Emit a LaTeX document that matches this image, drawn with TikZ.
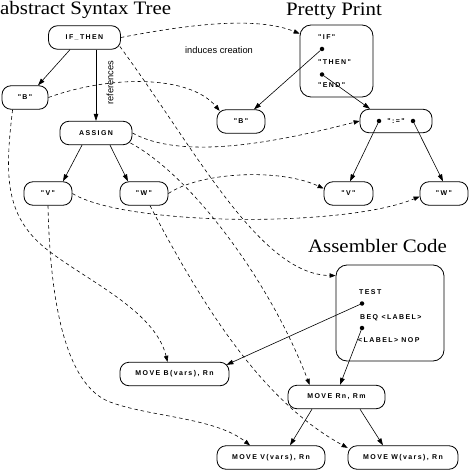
\documentclass[tikz,border=0pt]{standalone}
\usepackage{fontspec}
\setmainfont{Liberation Serif}
\newfontfamily\boxfont[LetterSpace=20]{Liberation Sans}
\newfontfamily\labfont{Liberation Sans}
\usetikzlibrary{arrows.meta,calc}
\newcommand{\widetitle}[1]{\scalebox{1.1}[1]{#1}}
\tikzset{
  box/.style={draw, line width=0.8pt, rounded corners=9pt, inner sep=0pt,
    font=\boxfont\bfseries\fontsize{7}{8}\selectfont, minimum height=23.5pt},
  bigbox/.style={draw, line width=0.8pt, rounded corners=11pt, inner sep=0pt},
  btext/.style={inner sep=0pt, anchor=west, font=\boxfont\bfseries\fontsize{7}{8}\selectfont},
  dot/.style={circle, fill, inner sep=0pt, minimum size=4.5pt},
  title/.style={inner sep=0pt, font=\fontsize{19}{23}\selectfont},
  lab/.style={inner sep=0pt, font=\labfont\fontsize{9.3}{11}\selectfont},
  link/.style={line width=0.6pt, -{Triangle[length=7pt,width=4.6pt]}},
  dlink/.style={line width=0.6pt, dash pattern=on 3.5pt off 3pt, -{Triangle[length=6pt,width=4.4pt]}},
}
\begin{document}
\begin{tikzpicture}[x=1pt,y=-1pt]
\useasboundingbox (0,0) rectangle (469,470);
% titles and labels
\node[title, anchor=base west] (tAST) at (0,15) {\widetitle{abstract Syntax Tree}};
\node[title, anchor=base] (tPP) at (334,15.5) {\widetitle{Pretty Print}};
\node[title, anchor=base] (tASM) at (377.5,252) {\widetitle{Assembler Code}};
\node[lab] (induces) at (219,50) {induces creation};
\node[lab, rotate=90] (refs) at (110,82.5) {references};
% AST
\node[box, minimum width=72pt] (ifthen) at (84.5,37.5) {IF\_THEN};
\node[box, minimum width=46pt] (bA) at (25,97.5) {"B"};
\node[box, minimum width=72pt] (assign) at (96,133) {ASSIGN};
\node[box, minimum width=48pt] (vA) at (48,193.5) {"V"};
\node[box, minimum width=48pt] (wA) at (144,193.5) {"W"};
% Pretty print
\node[bigbox, minimum width=73pt, minimum height=72pt] (ppbox) at (336.5,61) {};
\node[btext] (tIF) at (318,37.5) {"IF"};
\node[dot] (d1) at (322,49) {};
\node[btext] (tTHEN) at (318,62.5) {"THEN"};
\node[dot] (d2) at (322,74.5) {};
\node[btext] (tEND) at (318,85) {"END"};
\node[box, minimum width=48pt] (bP) at (241,121.5) {"B"};
\node[box, minimum width=72pt] (asgP) at (396,121) {":="};
\node[dot] (d3) at (379,121) {};
\node[dot] (d4) at (413,121) {};
\node[box, minimum width=49pt] (vP) at (348.5,193.5) {"V"};
\node[box, minimum width=48pt] (wP) at (444,193.5) {"W"};
% Assembler
\node[bigbox, minimum width=108pt, minimum height=96pt] (asm) at (390,313) {};
\node[btext] (tTEST) at (359,292) {TEST};
\node[dot] (d5) at (362,303.5) {};
\node[btext] (tBEQ) at (360,317.5) {BEQ <LABEL>};
\node[dot] (d6) at (362,328) {};
\node[btext] (tNOP) at (358,340.5) {<LABEL> NOP};
\node[box, minimum width=109pt] (moveB) at (174.5,374) {MOVE B(vars), Rn};
\node[box, minimum width=97pt] (moveRR) at (336.5,397) {MOVE Rn, Rm};
\node[box, minimum width=108pt] (moveV) at (271,457.5) {MOVE V(vars), Rn};
\node[box, minimum width=110pt] (moveW) at (403,457.5) {MOVE W(vars), Rn};
% solid connectors
\draw[link] ($(ifthen.south)+(-14.5,0)$) -- ($(bA.north)+(13,0)$);
\draw[link] ($(ifthen.south)+(11.5,0)$) -- (assign.north);
\draw[link] ($(assign.south)+(-14,0)$) -- ($(vA.north)+(15,0)$);
\draw[link] ($(assign.south)+(14,0)$) -- ($(wA.north)+(-16,0)$);
\draw[link] (d1) -- ($(bP.north)+(13,0)$);
\draw[link] (d2) -- ($(asgP.north)+(-26,0)$);
\draw[link] (d3) -- ($(vP.north)+(1.5,0)$);
\draw[link] (d4) -- ($(wP.north)+(-1,0)$);
\draw[link] (d5) -- ($(moveB.north east)+(-3,3)$);
\draw[link] (d6) -- ($(moveRR.north)+(3.5,0)$);
\draw[link] ($(moveRR.south)+(-24.5,0)$) -- ($(moveV.north)+(19,0)$);
\draw[link] ($(moveRR.south)+(23.5,0)$) -- ($(moveW.north)+(-20,0)$);
% dashed connectors
\draw[dlink] (ifthen.east) .. controls +(80,-15.5) and +(-40,-16) .. ($(ppbox.north west)+(0,9)$);
\draw[dlink] (bA.east) .. controls +(62,-22.5) and +(-30,-36) .. ($(bP.north west)+(3,1.5)$);
\draw[dlink] (assign.east) .. controls +(53,29) and +(-75,19) .. (asgP.west);
\draw[dlink] (vA.east) .. controls +(53,32.5) and +(-75,31.5) .. ($(wP.west)+(0,3)$);
\draw[dlink] (wA.east) .. controls +(32,-21.5) and +(-44,-20.5) .. ($(vP.west)+(0,-5)$);
\draw[dlink] ($(ifthen.east)+(-1,9)$) .. controls +(76,103.5) and +(-76,-1) .. ($(asm.north west)+(0,11)$);
\draw[dlink] ($(assign.east)+(-2,10)$) .. controls +(60,32) and +(-40,-105) .. ($(moveRR.north west)+(22,0)$);
\draw[dlink] ($(bA.south west)+(11,0)$) .. controls +(-8,66) and (5,215) .. (45,248) .. controls (85,280) and +(-12.5,-52) .. ($(moveB.north)+(-7,0)$);
\draw[dlink] (vA.south) .. controls (50,300) and (65,385) .. (110,402) .. controls (150,417) and +(-35,-28) .. ($(moveV.north)+(-21,0)$);
\draw[dlink] ($(wA.south)+(6,0)$) .. controls +(50,95) and +(-88,-48) .. ($(moveW.north west)+(0,2.5)$);
\end{tikzpicture}
\end{document}
